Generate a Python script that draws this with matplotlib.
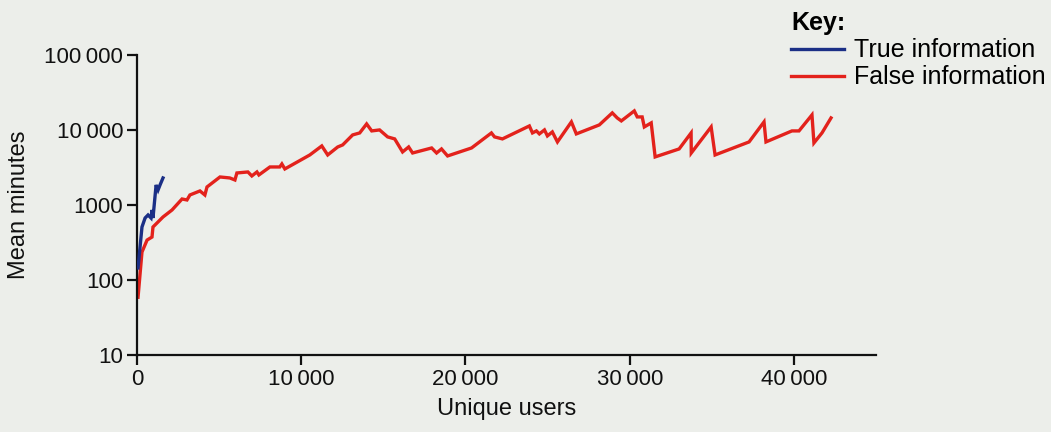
import matplotlib
matplotlib.use("Agg")
import matplotlib.pyplot as plt
from matplotlib.ticker import FixedLocator, FixedFormatter

plt.rcParams['font.family'] = ['Liberation Sans', 'DejaVu Sans']

# ---- data ----
true_users = [60, 300, 490, 670, 850, 910, 970, 1160, 1280, 1400, 1580]
true_minutes = [145, 509, 671, 736, 671, 858, 671, 1848, 1585, 1848, 2291]

false_users = [60, 300, 610, 910, 970, 1580, 2130, 2740, 3040, 3220, 3830, 4130, 4260,
               5050, 5650, 5960, 6080, 6750, 6990, 7300, 7420, 8090, 8690, 8820, 9000,
               10520, 11250, 11610, 12220, 12520, 13130, 13560, 13980, 14290, 14770,
               15260, 15690, 16170, 16540, 16780, 17940, 18240, 18540, 18910, 20370,
               21580, 21770, 22250, 23890, 24080, 24320, 24500, 24810, 24990, 25290,
               25600, 26450, 26750, 28150, 28940, 29240, 29490, 30280, 30460, 30760,
               30890, 31310, 31550, 33010, 33740, 33750, 34960, 35200, 37270, 38180,
               38300, 39880, 40310, 41100, 41220, 41710, 42260]
false_minutes = [59, 236, 341, 374, 509, 692, 858, 1202, 1166, 1360, 1538, 1360, 1738,
                 2362, 2291, 2154, 2670, 2754, 2436, 2754, 2512, 3210, 3210, 3520, 3020,
                 4640, 6120, 4640, 5930, 6310, 8580, 9120, 12020, 9700, 10000,
                 8070, 7590, 5090, 5930, 4930, 5750, 4930, 5580, 4500, 5750,
                 9120, 8070, 7590, 11300, 9120, 9700, 8850, 10000, 8320, 9400,
                 6920, 12790, 8850, 11660, 16870, 14450, 13180, 17910, 14900, 14900,
                 10960, 12400, 4370, 5580, 9120, 4930, 10960, 4640, 6920, 12790,
                 6920, 9700, 9700, 15850, 6710, 9120, 14450]

x_ticks = [0, 10000, 20000, 30000, 40000]
x_tick_labels = ['0', '10\u2009000', '20\u2009000', '30\u2009000', '40\u2009000']
y_ticks = [10, 100, 1000, 10000, 100000]
y_tick_labels = ['10', '100', '1000', '10\u2009000', '100\u2009000']

bg = '#eceeea'
fig = plt.figure(figsize=(10.51, 4.32), dpi=100, facecolor=bg)
ax = fig.add_axes([0.1304, 0.178, 0.7031, 0.695])
ax.set_facecolor(bg)

ax.plot(false_users, false_minutes, color='#e3221c', lw=2.4, label='False information',
        solid_joinstyle='miter', zorder=2)
ax.plot(true_users, true_minutes, color='#1b2f86', lw=2.4, label='True information',
        solid_joinstyle='miter', zorder=3)

ax.set_yscale('log')
ax.set_xlim(0, 45000)
ax.set_ylim(10, 100000)
ax.yaxis.set_major_locator(FixedLocator(y_ticks))
ax.yaxis.set_major_formatter(FixedFormatter(y_tick_labels))
ax.yaxis.set_minor_locator(FixedLocator([]))
ax.xaxis.set_major_locator(FixedLocator(x_ticks))
ax.xaxis.set_major_formatter(FixedFormatter(x_tick_labels))

for s in ['top', 'right']:
    ax.spines[s].set_visible(False)
for s in ['left', 'bottom']:
    ax.spines[s].set_linewidth(1.6)
    ax.spines[s].set_color('#111111')
ax.tick_params(axis='both', direction='out', length=7, width=1.6, labelsize=16,
               colors='#111111', pad=3)

ax.set_xlabel('Unique users', fontsize=17, color='#111111', labelpad=6)
ax.set_ylabel('Mean minutes', fontsize=17, color='#111111', labelpad=10)

h_false, h_true = ax.get_legend_handles_labels()[0]
leg = ax.legend([h_true, h_false], ['True information', 'False information'],
                title='Key:', alignment='left', frameon=False, fontsize=18,
                title_fontproperties={'weight': 'bold', 'size': 18},
                loc='upper left', bbox_to_anchor=(0.748, 0.985), bbox_transform=fig.transFigure,
                handlelength=2.1, handletextpad=0.4, labelspacing=0.12,
                borderaxespad=0, borderpad=0.2)

fig.savefig('out.png', dpi=100, facecolor=bg)
